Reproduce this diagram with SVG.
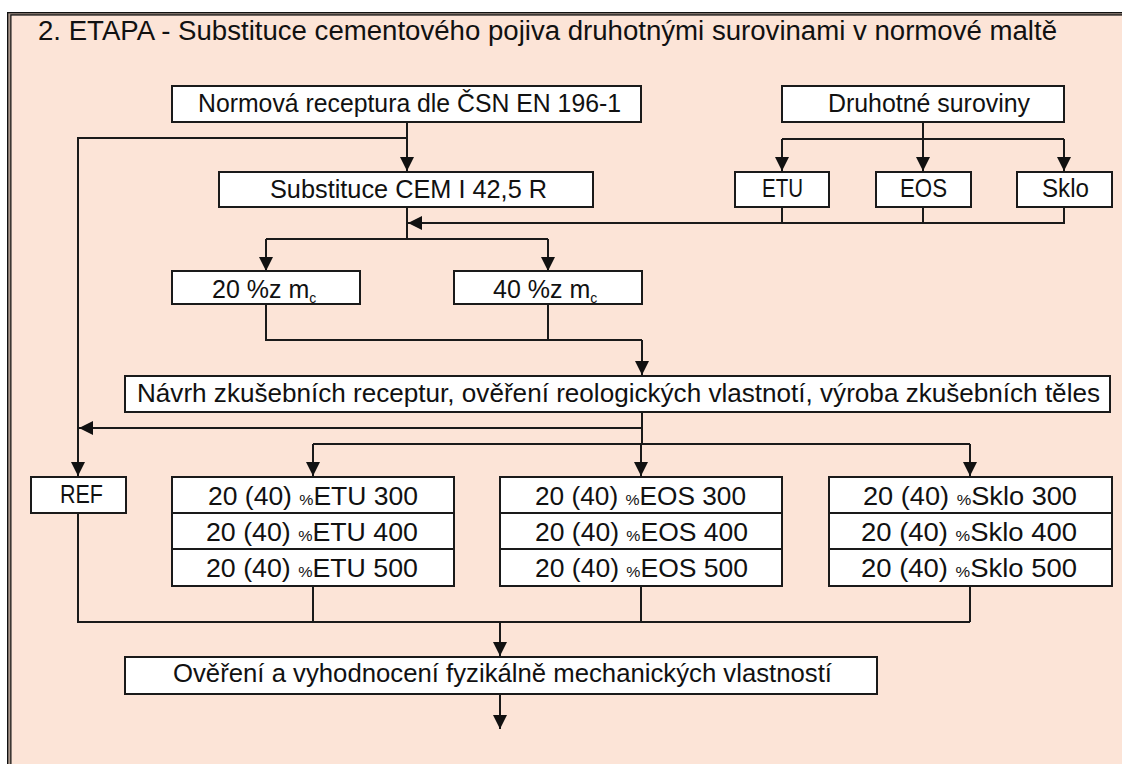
<svg xmlns="http://www.w3.org/2000/svg" width="1122" height="764" viewBox="0 0 1122 764">
<defs>
<style>
.bx{fill:#fff;stroke:#1a1a1a;stroke-width:2}
.t{font-family:"Liberation Sans",Arial,sans-serif;font-size:25px;fill:#111}
.ttl{font-size:27px}
.c{fill:none;stroke:#1a1a1a;stroke-width:2}
.a{fill:none;stroke:#1a1a1a;stroke-width:2;marker-end:url(#ah)}
.sm{font-size:15px}
.sub{font-size:14px}
</style>
<marker id="ah" markerUnits="userSpaceOnUse" markerWidth="14" markerHeight="14" refX="14" refY="7" orient="auto" viewBox="0 0 14 14">
<path d="M0,0 L14,7 L0,14 z" fill="#111"/>
</marker>
</defs>
<rect x="0" y="0" width="1122" height="764" fill="#fff"/>
<g id="frame">
<rect x="7" y="12" width="1200" height="800" fill="#111"/>
<rect x="8.3" y="13.3" width="1200" height="800" fill="#a8968a"/>
<rect x="10.3" y="14.3" width="1200" height="800" fill="#111"/>
<rect x="11.5" y="15.6" width="1200" height="800" fill="#fce4d7"/>
</g>
<text id="title" class="t ttl" x="38" y="40" textLength="1019" lengthAdjust="spacingAndGlyphs">2. ETAPA - Substituce cementového pojiva druhotnými surovinami v normové maltě</text>
<g id="connectors">
<path class="a" d="M407,122 V171"/>
<path class="a" d="M407,138 H78 V476"/>
<path class="c" d="M923,122 V139 M782,139 H1064"/>
<path class="a" d="M782,139 V171"/>
<path class="a" d="M923,139 V171"/>
<path class="a" d="M1064,139 V171"/>
<path class="c" d="M782,207 V223 M923,207 V223"/>
<path class="a" d="M1064,207 V223 H408"/>
<path class="c" d="M407,207 V239 M266,239 H548"/>
<path class="a" d="M266,239 V271"/>
<path class="a" d="M548,239 V271"/>
<path class="c" d="M266,304 V340 H642 M548,304 V340"/>
<path class="a" d="M642,340 V375"/>
<path class="a" d="M642,412 V428 H79"/>
<path class="c" d="M642,428 V444 M313,444 H970"/>
<path class="a" d="M313,444 V476"/>
<path class="a" d="M641,444 V476"/>
<path class="a" d="M970,444 V476"/>
<path class="c" d="M78,513 V622 H970 M313,586 V622 M641,586 V622 M970,586 V622"/>
<path class="a" d="M500,622 V656"/>
<path class="a" d="M500,694 V729"/>
</g>
<g id="n-normova">
<rect class="bx" x="172" y="86" width="469" height="36"/>
<text class="t" x="198" y="112" textLength="423" lengthAdjust="spacingAndGlyphs">Normová receptura dle ČSN EN 196-1</text>
</g>
<g id="n-druhotne">
<rect class="bx" x="782" y="86" width="282" height="36"/>
<text class="t" x="828" y="112" textLength="202" lengthAdjust="spacingAndGlyphs">Druhotné suroviny</text>
</g>
<g id="n-substituce">
<rect class="bx" x="219" y="172" width="374" height="35"/>
<text class="t" x="270" y="198" textLength="277" lengthAdjust="spacingAndGlyphs">Substituce CEM I 42,5 R</text>
</g>
<g id="n-etu">
<rect class="bx" x="735" y="172" width="94" height="35"/>
<text class="t" x="762" y="197" textLength="41" lengthAdjust="spacingAndGlyphs">ETU</text>
</g>
<g id="n-eos">
<rect class="bx" x="876" y="172" width="95" height="35"/>
<text class="t" x="900" y="197" textLength="47" lengthAdjust="spacingAndGlyphs">EOS</text>
</g>
<g id="n-sklo">
<rect class="bx" x="1017" y="172" width="95" height="35"/>
<text class="t" x="1042" y="197" textLength="47" lengthAdjust="spacingAndGlyphs">Sklo</text>
</g>
<g id="n-20">
<rect class="bx" x="172" y="271" width="188" height="33"/>
<text class="t" x="212" y="298">20 %z m<tspan class="sub" dy="5">c</tspan></text>
</g>
<g id="n-40">
<rect class="bx" x="454" y="271" width="188" height="33"/>
<text class="t" x="493" y="298">40 %z m<tspan class="sub" dy="5">c</tspan></text>
</g>
<g id="n-navrh">
<rect class="bx" x="125" y="376" width="985" height="36"/>
<text class="t" x="137" y="402" textLength="963" lengthAdjust="spacingAndGlyphs">Návrh zkušebních receptur, ověření reologických vlastnotí,  výroba zkušebních těles</text>
</g>
<g id="n-ref">
<rect class="bx" x="31" y="477" width="95" height="36"/>
<text class="t" x="60" y="503" textLength="43" lengthAdjust="spacingAndGlyphs">REF</text>
</g>
<g id="n-etu-group">
<rect class="bx" x="172" y="477" width="282" height="36"/>
<rect class="bx" x="172" y="513" width="282" height="36"/>
<rect class="bx" x="172" y="549" width="282" height="37"/>
<text class="t" x="208" y="505" textLength="210" lengthAdjust="spacingAndGlyphs">20 (40) <tspan class="sm">%</tspan>ETU 300</text>
<text class="t" x="206" y="541" textLength="212" lengthAdjust="spacingAndGlyphs">20 (40) <tspan class="sm">%</tspan>ETU 400</text>
<text class="t" x="206" y="577" textLength="212" lengthAdjust="spacingAndGlyphs">20 (40) <tspan class="sm">%</tspan>ETU 500</text>
</g>
<g id="n-eos-group">
<rect class="bx" x="500" y="477" width="282" height="36"/>
<rect class="bx" x="500" y="513" width="282" height="36"/>
<rect class="bx" x="500" y="549" width="282" height="37"/>
<text class="t" x="535" y="505" textLength="211" lengthAdjust="spacingAndGlyphs">20 (40) <tspan class="sm">%</tspan>EOS 300</text>
<text class="t" x="535" y="541" textLength="213" lengthAdjust="spacingAndGlyphs">20 (40) <tspan class="sm">%</tspan>EOS 400</text>
<text class="t" x="535" y="577" textLength="213" lengthAdjust="spacingAndGlyphs">20 (40) <tspan class="sm">%</tspan>EOS 500</text>
</g>
<g id="n-sklo-group">
<rect class="bx" x="829" y="477" width="283" height="36"/>
<rect class="bx" x="829" y="513" width="283" height="36"/>
<rect class="bx" x="829" y="549" width="283" height="37"/>
<text class="t" x="863" y="505" textLength="214" lengthAdjust="spacingAndGlyphs">20 (40) <tspan class="sm">%</tspan>Sklo 300</text>
<text class="t" x="861" y="541" textLength="216" lengthAdjust="spacingAndGlyphs">20 (40) <tspan class="sm">%</tspan>Sklo 400</text>
<text class="t" x="861" y="577" textLength="216" lengthAdjust="spacingAndGlyphs">20 (40) <tspan class="sm">%</tspan>Sklo 500</text>
</g>
<g id="n-overeni">
<rect class="bx" x="125" y="657" width="752" height="37"/>
<text class="t" x="173" y="682" textLength="659" lengthAdjust="spacingAndGlyphs">Ověření a vyhodnocení fyzikálně mechanických vlastností</text>
</g>
</svg>
